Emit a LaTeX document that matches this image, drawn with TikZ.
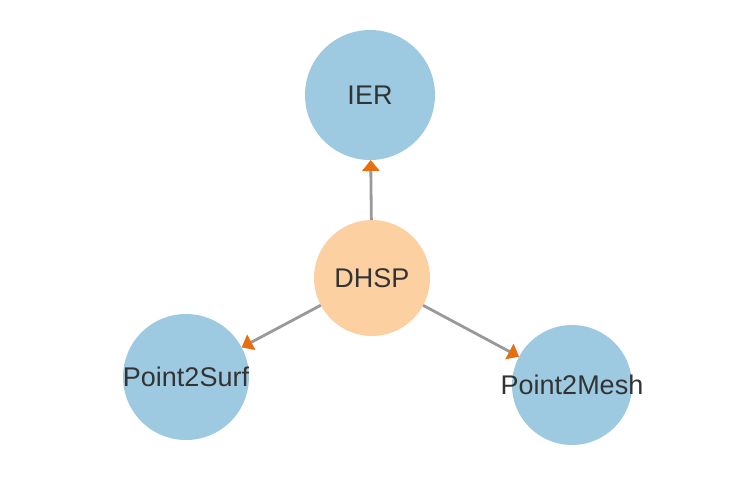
\documentclass[tikz,border=0pt]{standalone}
\usepackage{fontspec}
\setmainfont{Liberation Sans}
\usetikzlibrary{arrows.meta}
\definecolor{nodeblue}{HTML}{9ECAE1}
\definecolor{nodeorange}{HTML}{FDD0A2}
\definecolor{edgegray}{HTML}{999999}
\definecolor{tiporange}{HTML}{E6700F}
\definecolor{txt}{HTML}{333333}
\begin{document}
\begin{tikzpicture}[x=1pt,y=-1pt,
  vert/.style={circle,inner sep=0pt,outer sep=0pt,text=txt},
  blue/.style={vert,fill=nodeblue},
  orng/.style={vert,fill=nodeorange},
  lbl/.style={text=txt,font=\fontsize{27}{32}\selectfont},
  edge/.style={draw=edgegray,line width=2.8pt,-{Triangle[width=17pt,length=11pt,color=tiporange]}}]
\useasboundingbox (0,0) rectangle (742,482);
\node[blue,minimum size=130pt,label={[lbl]center:IER}] (ier) at (370,95) {};
\node[orng,minimum size=116pt,label={[lbl]center:DHSP}] (dhsp) at (372,278) {};
\node[blue,minimum size=126pt,label={[lbl]center:Point2Surf}] (surf) at (186,377) {};
\node[blue,minimum size=120pt,label={[lbl]center:Point2Mesh}] (mesh) at (572,385) {};
\draw[edge] (dhsp) -- (ier);
\draw[edge] (dhsp) -- (surf);
\draw[edge] (dhsp) -- (mesh);
\end{tikzpicture}
\end{document}
